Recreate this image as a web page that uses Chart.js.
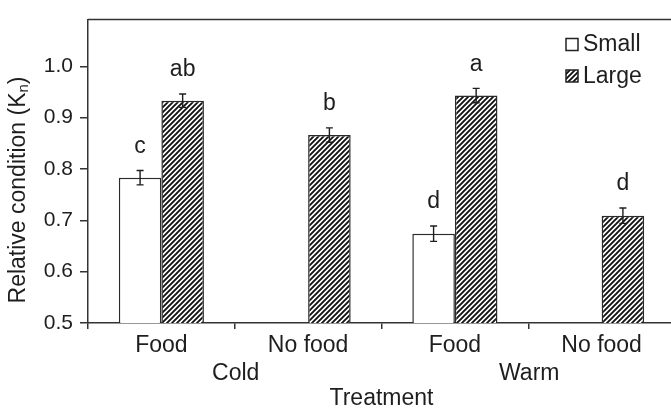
<!DOCTYPE html>
<html>
<head>
<meta charset="utf-8">
<script src="https://cdn.jsdelivr.net/npm/chart.js@4/dist/chart.umd.min.js"></script>
<style>
html,body{margin:0;padding:0;background:#fff;overflow:hidden;}
#wrap{width:680px;height:413px;}
</style>
</head>
<body>
<div id="wrap"><canvas id="c" width="680" height="413"></canvas></div>
<script>
// ---- data ----
const categories = ['Food', 'No food', 'Food', 'No food'];
const groups = ['Cold', 'Warm'];
const seriesNames = ['Small', 'Large'];
const smallValues = [0.783, null, 0.674, null];
const smallErrors = [0.014, null, 0.015, null];
const largeValues = [0.933, 0.866, 0.943, 0.709];
const largeErrors = [0.013, 0.014, 0.014, 0.015];
const smallLetters = ['c', null, 'd', null];
const largeLetters = ['ab', 'b', 'a', 'd'];
const yTicks = [0.5, 0.6, 0.7, 0.8, 0.9, 1.0];
const yTitle = 'Relative condition (K';
const yTitleSub = 'n';
const xTitle = 'Treatment';

const FONT = '"Liberation Sans", Arial, Helvetica, sans-serif';
const INK = '#1e1e1e';

function makeHatch() {
  const p = 5;
  const c = document.createElement('canvas');
  c.width = p; c.height = p;
  const g = c.getContext('2d');
  g.fillStyle = '#fff'; g.fillRect(0, 0, p, p);
  g.strokeStyle = '#111'; g.lineWidth = 1.9; g.lineCap = 'square';
  g.beginPath();
  g.moveTo(0, p); g.lineTo(p, 0);
  g.moveTo(-1, 1); g.lineTo(1, -1);
  g.moveTo(p - 1, p + 1); g.lineTo(p + 1, p - 1);
  g.stroke();
  return g.createPattern(c, 'repeat');
}
const hatch = makeHatch();

const errs = [smallErrors, largeErrors];
const letters = [smallLetters, largeLetters];

const extras = {
  id: 'extras',
  afterDatasetsDraw(chart) {
    const ctx = chart.ctx;
    const y = chart.scales.y, x = chart.scales.x;
    const area = chart.chartArea;
    ctx.save();
    // error bars and letters
    chart.data.datasets.forEach((ds, di) => {
      const meta = chart.getDatasetMeta(di);
      ds.data.forEach((v, i) => {
        if (v == null) return;
        const bx = meta.data[i].x;
        const e = errs[di][i];
        const yt = y.getPixelForValue(v + e), yb = y.getPixelForValue(v - e);
        ctx.strokeStyle = INK; ctx.lineWidth = 1.4;
        ctx.beginPath();
        ctx.moveTo(bx, yt); ctx.lineTo(bx, yb);
        ctx.moveTo(bx - 3.5, yt); ctx.lineTo(bx + 3.5, yt);
        ctx.moveTo(bx - 3.5, yb); ctx.lineTo(bx + 3.5, yb);
        ctx.stroke();
        const L = letters[di][i];
        if (L) {
          ctx.fillStyle = INK;
          ctx.font = '23px ' + FONT;
          ctx.textAlign = 'center'; ctx.textBaseline = 'middle';
          ctx.fillText(L, bx, yt - 24);
        }
      });
    });
    // frame (top and right lines)
    ctx.strokeStyle = '#333'; ctx.lineWidth = 1.5;
    ctx.beginPath();
    ctx.moveTo(area.left, area.top); ctx.lineTo(area.right, area.top);
    ctx.lineTo(area.right, area.bottom);
    ctx.stroke();
    // group labels and axis title
    ctx.fillStyle = INK;
    ctx.font = '23px ' + FONT;
    ctx.textAlign = 'center'; ctx.textBaseline = 'middle';
    groups.forEach((gname, gi) => {
      const gx = (x.getPixelForValue(gi * 2) + x.getPixelForValue(gi * 2 + 1)) / 2;
      ctx.fillText(gname, gx + 1, 373.5);
    });
    ctx.fillText(xTitle, (area.left + area.right) / 2, 398.5);
    // y title with subscript
    ctx.save();
    ctx.translate(18.5, 190);
    ctx.rotate(-Math.PI / 2);
    ctx.textAlign = 'left'; ctx.textBaseline = 'middle';
    const fMain = '23px ' + FONT, fSub = '15px ' + FONT;
    ctx.font = fMain; const w1 = ctx.measureText(yTitle).width; const w3 = ctx.measureText(')').width;
    ctx.font = fSub; const w2 = ctx.measureText(yTitleSub).width;
    let sx = -(w1 + w2 + w3) / 2;
    ctx.font = fMain; ctx.fillText(yTitle, sx, 0); sx += w1;
    ctx.font = fSub; ctx.fillText(yTitleSub, sx, 5); sx += w2;
    ctx.font = fMain; ctx.fillText(')', sx, 0);
    ctx.restore();
    // legend
    const lx = 566, ly = [38.5, 70];
    [['#fff', seriesNames[0]], [hatch, seriesNames[1]]].forEach((it, k) => {
      ctx.fillStyle = it[0];
      ctx.fillRect(lx, ly[k], 12, 12);
      ctx.strokeStyle = '#222'; ctx.lineWidth = 1.5;
      ctx.strokeRect(lx, ly[k], 12, 12);
      ctx.fillStyle = INK;
      ctx.font = '23px ' + FONT;
      ctx.textAlign = 'left'; ctx.textBaseline = 'middle';
      ctx.fillText(it[1], 583, ly[k] + 6.5);
    });
    ctx.restore();
  }
};

new Chart(document.getElementById('c'), {
  type: 'bar',
  data: {
    labels: categories,
    datasets: [
      { label: seriesNames[0], data: smallValues, backgroundColor: '#fff', borderColor: '#2a2a2a', borderWidth: 1.5, borderSkipped: 'bottom' },
      { label: seriesNames[1], data: largeValues, backgroundColor: hatch, borderColor: '#2a2a2a', borderWidth: 1.5, borderSkipped: 'bottom' }
    ]
  },
  options: {
    responsive: false,
    animation: false,
    devicePixelRatio: 1,
    layout: { padding: { top: 8, right: 5, left: 0, bottom: 0 } },
    plugins: { legend: { display: false }, tooltip: { enabled: false } },
    datasets: { bar: { categoryPercentage: 0.58, barPercentage: 1.0 } },
    scales: {
      x: {
        grid: { display: true, drawOnChartArea: false, drawTicks: true, tickLength: 6, color: '#333', lineWidth: 1.5, offset: true },
        border: { display: true, color: '#333', width: 1.5 },
        ticks: { color: INK, font: { family: FONT, size: 23 }, padding: 3, maxRotation: 0, autoSkip: false },
        afterFit(s) { s.height = 90; }
      },
      y: {
        min: 0.5, max: 1.091,
        afterBuildTicks(s) { s.ticks = yTicks.map(v => ({ value: v })); },
        grid: { display: true, drawOnChartArea: false, drawTicks: true, tickLength: 8, color: '#333', lineWidth: 1.5 },
        border: { display: true, color: '#333', width: 1.5 },
        ticks: { color: INK, font: { family: FONT, size: 21 }, padding: 7, callback: v => Number(v).toFixed(1) },
        afterFit(s) { s.width = 88; }
      }
    }
  },
  plugins: [extras]
});
</script>
</body>
</html>
